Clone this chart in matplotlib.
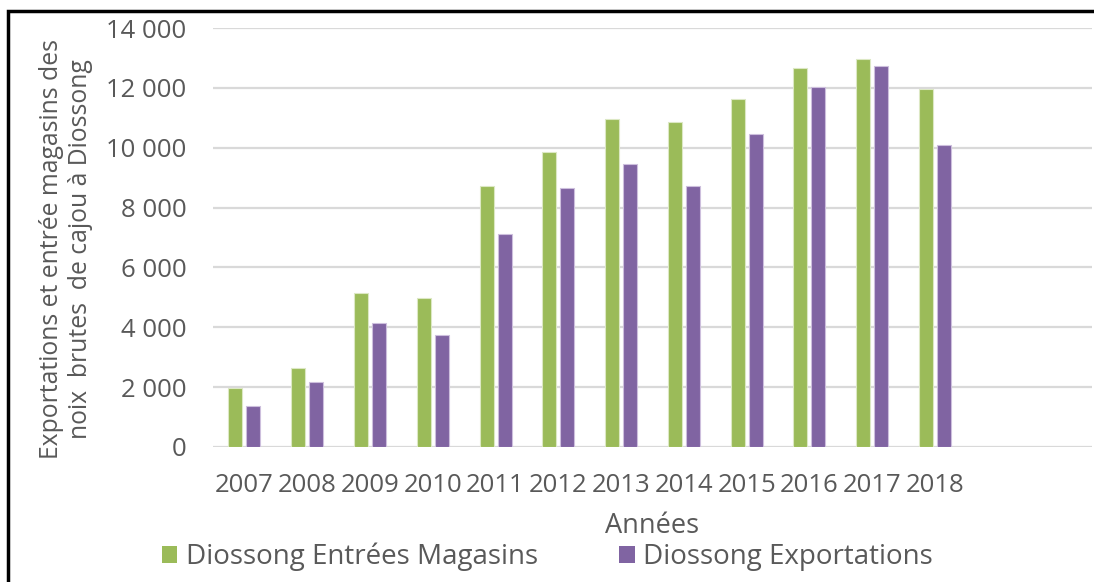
import matplotlib.pyplot as plt
import matplotlib.ticker as mticker
from matplotlib.patches import Rectangle, Patch
import numpy as np

# Données Diossong (tonnes de noix brutes de cajou)
annees = ['2007', '2008', '2009', '2010', '2011', '2012', '2013',
          '2014', '2015', '2016', '2017', '2018', '', '']
entrees_magasins = [1980, 2640, 5145, 4980, 8730, 9870, 10960,
                    10860, 11630, 12660, 12960, 11960]
exportations = [1370, 2170, 4130, 3740, 7115, 8650, 9455,
                8730, 10470, 12030, 12720, 10090]

VERT = '#9BBB59'
VIOLET = '#8064A2'
GRIS_TEXTE = '#595959'

plt.rcParams['font.family'] = ['Open Sans', 'DejaVu Sans']

fig = plt.figure(figsize=(10.94, 5.82), dpi=100)
ax = fig.add_axes([213 / 1094, 1 - 447 / 582, 879 / 1094, 419 / 582])

x = np.arange(len(annees))
n = len(entrees_magasins)
w = 0.223
ax.bar(x[:n] - 0.143, entrees_magasins, width=w, color=VERT,
       edgecolor='#DCE8C4', linewidth=0.8, zorder=3)
ax.bar(x[:n] + 0.143, exportations, width=w, color=VIOLET,
       edgecolor='#CDBFDD', linewidth=0.8, zorder=3)

ax.set_xlim(-0.5, len(annees) - 0.5)
ax.set_ylim(0, 14000)
ax.set_yticks(np.arange(0, 14001, 2000))
ax.yaxis.set_major_formatter(
    mticker.FuncFormatter(lambda v, p: f'{int(v):,}'.replace(',', ' ')))
ax.set_xticks(x)
ax.set_xticklabels(annees)

ax.grid(axis='y', color='#D9D9D9', linewidth=1.6, zorder=0)
ax.set_axisbelow(True)
for s in ax.spines.values():
    s.set_visible(False)
ax.tick_params(axis='both', length=0, labelsize=18.5, labelcolor=GRIS_TEXTE)
ax.tick_params(axis='y', pad=19)
ax.tick_params(axis='x', pad=19)

ax.set_xlabel('Années', fontsize=19.5, color=GRIS_TEXTE)
ax.xaxis.set_label_coords(0.5, -0.155)
ax.set_ylabel('Exportations et entrée magasins des\nnoix  brutes  de cajou à Diossong',
              fontsize=17.8, color=GRIS_TEXTE, linespacing=1.25)
ax.yaxis.set_label_coords(-0.136, 0.473)

handles = [Patch(facecolor=VERT, label='Diossong Entrées Magasins'),
           Patch(facecolor=VIOLET, label='Diossong Exportations')]
leg = fig.legend(handles=handles, ncol=2, loc='center',
                 bbox_to_anchor=(0.5005, 1 - 557 / 582), frameon=False,
                 fontsize=20, handlelength=0.56, handleheight=0.56,
                 handletextpad=0.32, columnspacing=2.9, borderpad=0)
for t in leg.get_texts():
    t.set_color(GRIS_TEXTE)

# cadre noir du graphique
fig.patches.append(Rectangle((8 / 1094, -0.1), 1.2, 1.1 - 11 / 582,
                             transform=fig.transFigure, fill=False,
                             edgecolor='black', linewidth=2.5))

fig.savefig('out.png', dpi=100)
